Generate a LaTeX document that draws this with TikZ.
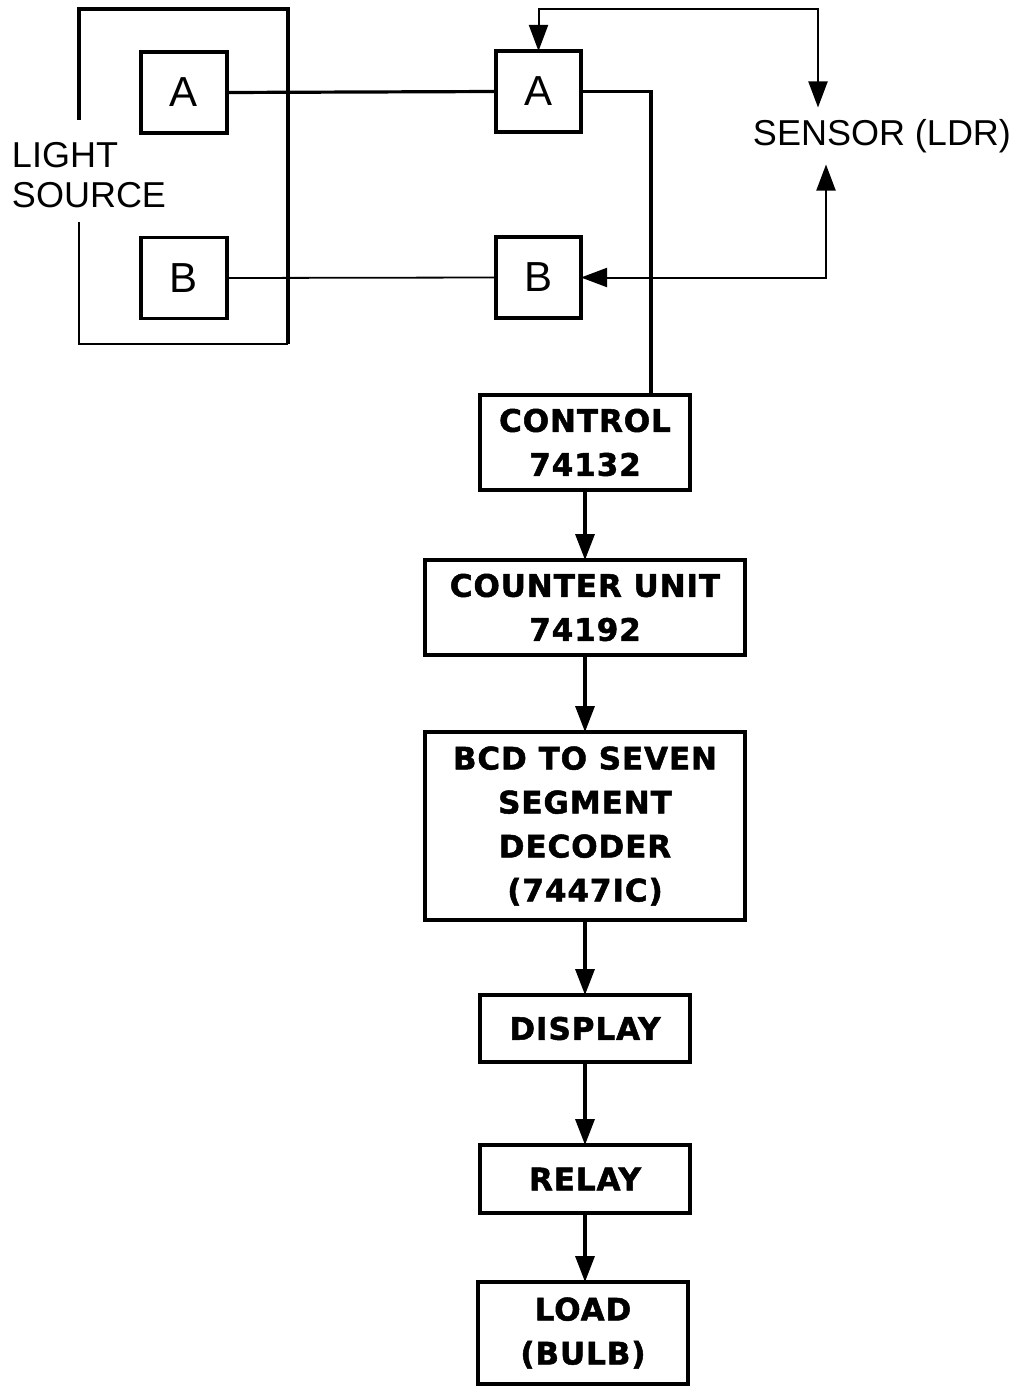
\documentclass[tikz,border=0pt]{standalone}
\usepackage{fontspec}
\setmainfont{Liberation Sans}
\newfontfamily\heavyfont[LetterSpace=3,FakeBold=1.6]{DejaVu Sans Bold}
\usetikzlibrary{arrows.meta}
\begin{document}
\begin{tikzpicture}[x=1pt,y=-1pt,
  every node/.style={inner sep=0pt,outer sep=0pt},
  smallbox/.style={draw,line width=3.4pt,minimum width=86pt,minimum height=81pt,font=\fontsize{42}{46}\selectfont},
  block/.style={draw,line width=3.4pt,align=center,font=\heavyfont\fontsize{31}{44}\selectfont},
  wire/.style={line width=3.2pt},
  thinwire/.style={line width=1.8pt},
  arr/.style={line width=3.4pt,-{Triangle[length=26pt,width=19pt]}},
  arrboth/.style={line width=2pt,{Triangle[length=26pt,width=19pt]}-{Triangle[length=26pt,width=19pt]}},
  plain/.style={font=\fontsize{36}{40}\selectfont}
]
\useasboundingbox (0,0) rectangle (1018,1386);
% light source frame
\draw[line width=3.4pt] (79,120) -- (79,9) -- (288,9) -- (288,344);
\draw[line width=2.4pt] (288,344) -- (79,344) -- (79,222);
\node[plain,anchor=west,align=left] (ls) at (12,175) {LIGHT\\SOURCE};
% small boxes
\node[smallbox] (la) at (184,92.5) {A};
\node[smallbox] (lb) at (184,278) {B};
\node[smallbox,minimum width=85pt] (ra) at (538.5,91.5) {A};
\node[smallbox,minimum width=85pt] (rb) at (538.5,277.5) {B};
\node[plain,minimum height=57pt] (sensor) at (882,136) {SENSOR (LDR)};
% chain blocks
\node[block,minimum width=210pt,minimum height=95pt] (control) at (585,442.5) {CONTROL\\74132};
\node[block,minimum width=320pt,minimum height=95pt] (counter) at (585,607.5) {COUNTER UNIT\\74192};
\node[block,minimum width=320pt,minimum height=188pt] (bcd) at (585,826) {BCD TO SEVEN\\SEGMENT\\DECODER\\(7447IC)};
\node[block,minimum width=210pt,minimum height=67pt] (display) at (585,1028.5) {DISPLAY};
\node[block,minimum width=210pt,minimum height=68pt] (relay) at (585,1179) {RELAY};
\node[block,minimum width=210pt,minimum height=102pt] (load) at (583,1333) {LOAD\\(BULB)};
% connectors
\draw[wire] (la.east) -- (ra.west);
\draw[thinwire] (lb.east) -- (rb.west);
\draw[wire] (ra.east) -| ([xshift=66pt]control.north);
\coordinate (tp) at (680,9);
\draw[arrboth] (ra.north) |- (tp) -| ([xshift=-64pt]sensor.north);
\draw[arrboth] ([xshift=-56pt]sensor.south) |- (rb.east);
\draw[arr] (control.south) -- (counter.north);
\draw[arr] (counter.south) -- (bcd.north);
\draw[arr] (bcd.south) -- (display.north);
\draw[arr] (display.south) -- (relay.north);
\draw[arr] (relay.south) -- (relay.south |- load.north);
\end{tikzpicture}
\end{document}
